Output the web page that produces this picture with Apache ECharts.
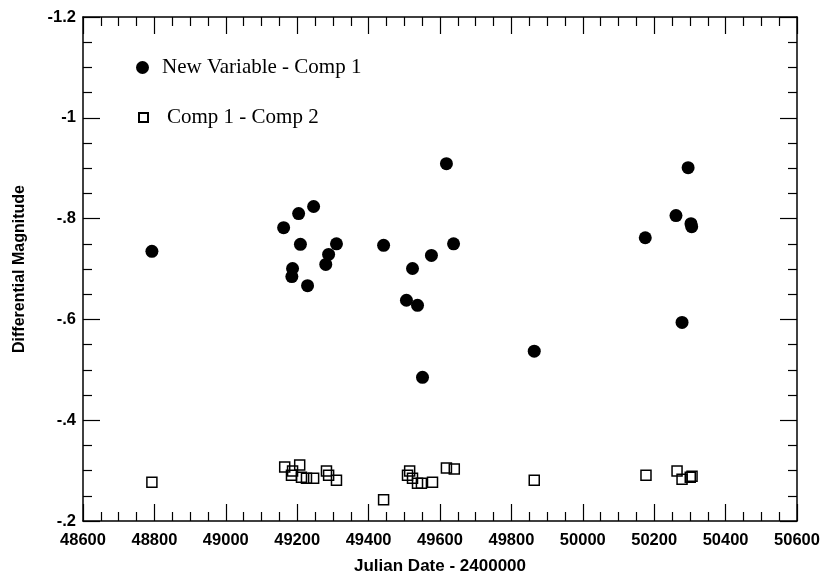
<!DOCTYPE html>
<html>
<head>
<meta charset="utf-8">
<script src="https://cdn.jsdelivr.net/npm/echarts@6/dist/echarts.min.js"></script>
<style>html,body{margin:0;padding:0;background:#fff;}#c{width:827px;height:580px;}</style>
</head>
<body>
<div id="c"></div>
<script>
// ---- data ----
const seriesNames = ['New Variable - Comp 1', 'Comp 1 - Comp 2'];
const newVarX = [48793, 49162, 49204, 49246, 49209, 49187, 49185, 49229, 49280, 49288, 49310, 49442, 49523, 49506, 49537, 49551, 49576, 49618, 49638, 49864, 50175, 50261, 50295, 50303, 50305, 50278];
const newVarY = [-0.735, -0.782, -0.810, -0.824, -0.749, -0.701, -0.685, -0.667, -0.709, -0.729, -0.750, -0.747, -0.701, -0.638, -0.628, -0.485, -0.727, -0.909, -0.750, -0.537, -0.762, -0.806, -0.901, -0.790, -0.784, -0.594];
const compX = [48793, 49165, 49187, 49184, 49207, 49212, 49226, 49246, 49282, 49288, 49310, 49442, 49509, 49515, 49523, 49537, 49548, 49579, 49618, 49640, 49864, 50177, 50264, 50278, 50301, 50306];
const compY = [-0.277, -0.307, -0.299, -0.291, -0.311, -0.287, -0.285, -0.285, -0.299, -0.291, -0.281, -0.242, -0.291, -0.299, -0.285, -0.275, -0.275, -0.277, -0.305, -0.303, -0.281, -0.291, -0.299, -0.283, -0.287, -0.289];
const xTickValues = [48600, 48800, 49000, 49200, 49400, 49600, 49800, 50000, 50200, 50400, 50600];
const xTickLabels = ['48600', '48800', '49000', '49200', '49400', '49600', '49800', '50000', '50200', '50400', '50600'];
const yTickValues = [-1.2, -1.0, -0.8, -0.6, -0.4, -0.2];
const yTickLabels = ['-1.2', '-1', '-.8', '-.6', '-.4', '-.2'];
const xTitle = 'Julian Date - 2400000';
const yTitle = 'Differential Magnitude';

function lookup(vals, labels, v) {
  for (let i = 0; i < vals.length; i++) if (Math.abs(vals[i] - v) < 1e-6) return labels[i];
  return '';
}

const chart = echarts.init(document.getElementById('c'), null, {renderer: 'canvas'});
const axisLine = {show: true, lineStyle: {color: '#000', width: 1.5}};
const tickStyle = {color: '#000', width: 1.2};
const sansFamily = 'Liberation Sans, Arial, sans-serif';
const labelFont = {color: '#000', fontFamily: sansFamily, fontWeight: 'bold', fontSize: 16.5};

function xAx(pos, showLabel) {
  return {
    type: 'value', position: pos, min: 48600, max: 50600, interval: 200,
    axisLine: axisLine,
    axisTick: {show: true, inside: true, length: 17, lineStyle: tickStyle},
    minorTick: {show: true, splitNumber: 4, length: 9, lineStyle: tickStyle},
    splitLine: {show: false}, minorSplitLine: {show: false},
    axisLabel: Object.assign({show: showLabel, margin: 11, formatter: v => lookup(xTickValues, xTickLabels, v)}, labelFont),
    name: showLabel ? xTitle : '', nameLocation: 'middle', nameGap: 37,
    nameTextStyle: {color: '#000', fontFamily: sansFamily, fontWeight: 'bold', fontSize: 17}
  };
}
function yAx(pos, showLabel) {
  return {
    type: 'value', position: pos, min: -1.2, max: -0.2, interval: 0.2, inverse: true,
    axisLine: axisLine,
    axisTick: {show: true, inside: true, length: 17, lineStyle: tickStyle},
    minorTick: {show: true, splitNumber: 4, length: 9, lineStyle: tickStyle},
    splitLine: {show: false}, minorSplitLine: {show: false},
    axisLabel: Object.assign({show: showLabel, margin: 7, formatter: v => lookup(yTickValues, yTickLabels, v)}, labelFont),
    name: showLabel ? yTitle : '', nameLocation: 'middle', nameGap: 55, nameRotate: 90,
    nameTextStyle: {color: '#000', fontFamily: sansFamily, fontWeight: 'bold', fontSize: 16}
  };
}

const serifText = {color: '#000', fontFamily: 'Liberation Serif, Times New Roman, serif', fontSize: 21};

chart.setOption({
  animation: false,
  backgroundColor: '#fff',
  grid: {left: 83, right: 30, top: 17, bottom: 58},
  legend: [
    {data: [seriesNames[0]], left: 131, top: 52, itemWidth: 13, itemHeight: 13, icon: 'circle',
     textStyle: Object.assign({padding: [0, 0, 8, 8]}, serifText)},
    {data: [seriesNames[1]], left: 133, top: 102, itemWidth: 9, itemHeight: 9, icon: 'rect',
     textStyle: Object.assign({padding: [0, 0, 6, 14]}, serifText)}
  ],
  xAxis: [xAx('bottom', true), xAx('top', false)],
  yAxis: [yAx('left', true), yAx('right', false)],
  series: [
    {name: seriesNames[0], type: 'scatter', xAxisIndex: 0, yAxisIndex: 0, symbol: 'circle', symbolSize: 13,
     itemStyle: {color: '#000', opacity: 1}, data: newVarX.map((x, i) => [x, newVarY[i]])},
    {name: seriesNames[1], type: 'scatter', xAxisIndex: 0, yAxisIndex: 0, symbol: 'rect', symbolSize: 10,
     itemStyle: {color: 'rgba(0,0,0,0)', borderColor: '#000', borderWidth: 1.5, opacity: 1}, data: compX.map((x, i) => [x, compY[i]])}
  ]
});
</script>
</body>
</html>
